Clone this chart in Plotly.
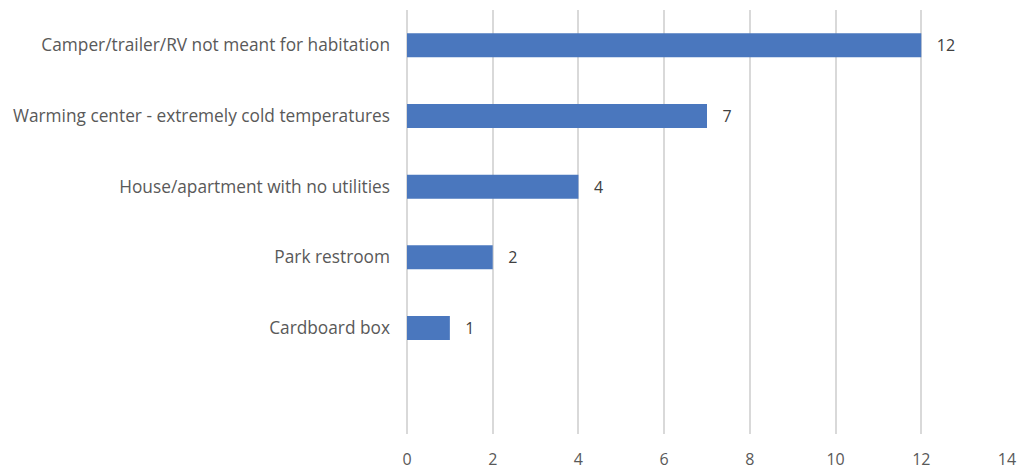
import plotly.graph_objects as go

# categories listed top to bottom, blank slot at the bottom as in the source
categories = [
    "Camper/trailer/RV not meant for habitation",
    "Warming center - extremely cold temperatures",
    "House/apartment with no utilities",
    "Park restroom",
    "Cardboard box",
    " ",
]
counts = [12, 7, 4, 2, 1, None]
tick_values = [0, 2, 4, 6, 8, 10, 12, 14]

FONT = "'Open Sans', 'Noto Sans', sans-serif"
BAR_COLOR = "#4A77BE"
GRID_COLOR = "#D9D9D9"

fig = go.Figure()

fig.add_trace(
    go.Bar(
        x=counts,
        y=categories,
        orientation="h",
        marker=dict(color=BAR_COLOR, line=dict(width=0)),
        text=[("" if v is None else "   " + str(v)) for v in counts],
        textposition="outside",
        constraintext="none",
        textfont=dict(family=FONT, size=16, color="#404040"),
        cliponaxis=False,
        hoverinfo="x+y",
    )
)

# the page body has an 8px margin, so the figure is sized a little smaller
fig.update_layout(
    width=1018,
    height=466,
    margin=dict(l=399, r=19, t=2, b=40),
    paper_bgcolor="white",
    plot_bgcolor="white",
    bargap=0.66,
    showlegend=False,
    font=dict(family=FONT, size=16, color="#595959"),
    xaxis=dict(
        range=[0, 14],
        tickvals=tick_values,
        showgrid=True,
        gridcolor=GRID_COLOR,
        gridwidth=1.5,
        zeroline=True,
        zerolinecolor=GRID_COLOR,
        zerolinewidth=1.5,
        showline=False,
        ticks="",
        ticklabelstandoff=14,
        tickfont=dict(family=FONT, size=16, color="#595959"),
    ),
    yaxis=dict(
        categoryorder="array",
        categoryarray=categories,
        autorange="reversed",
        showgrid=False,
        showline=False,
        zeroline=False,
        ticks="",
        ticklabelstandoff=16,
        tickfont=dict(family=FONT, size=17.3, color="#595959"),
    ),
)

fig.write_html("out.html")
